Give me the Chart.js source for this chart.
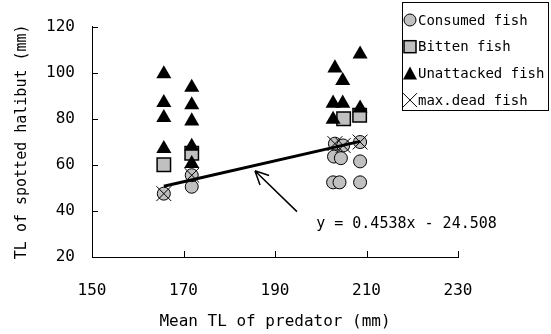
<!DOCTYPE html>
<html>
<head>
<meta charset="utf-8">
<script src="https://cdn.jsdelivr.net/npm/chart.js@4"></script>
<style>
  html, body { margin: 0; padding: 0; background: #fff; }
  canvas { display: block; }
</style>
</head>
<body>
<canvas id="grafico" width="551" height="334"></canvas>
<script>
// --- DATOS ---
const consumedX = [165.7, 171.8, 171.8, 203.1, 204.9, 208.6, 202.9, 204.4, 208.6, 202.7, 204.1, 208.6];
const consumedY = [47.5, 50.5, 55.5, 69.2, 68.4, 69.9, 63.6, 62.9, 61.5, 52.4, 52.4, 52.4];

const bittenX = [165.7, 171.8, 205.0, 208.5];
const bittenY = [60, 65, 80, 81.5];

const unattackedX = [165.7, 165.7, 165.7, 165.7, 171.8, 171.8, 171.8, 171.8, 171.8, 203.1, 204.8, 202.7, 204.8, 208.6, 202.7, 208.6];
const unattackedY = [99.5, 87, 80.5, 67, 93.6, 86, 79, 68, 60.5, 102, 96.5, 86.7, 86.7, 84.6, 79.7, 108];

const maxDeadX = [165.7, 171.8, 203.1, 204.9, 208.6];
const maxDeadY = [47.5, 55.5, 69.2, 68.4, 69.9];

const trendX = [165.7, 208.6];
const trendY = [50.7, 70.2];

const xTicks = [150, 170, 190, 210, 230];
const yTicks = [20, 40, 60, 80, 100, 120];

const legendLabels = ['Consumed fish', 'Bitten fish', 'Unattacked fish', 'max.dead fish'];
const equationText = 'y = 0.4538x - 24.508';

const FONT = '"DejaVu Sans Mono", monospace';

function puntos(xs, ys) {
    return xs.map((x, i) => ({ x: x, y: ys[i] }));
}

// --- MARCADORES ---
function dibujarMarcador(ctx, tipo, x, y) {
    ctx.save();
    ctx.strokeStyle = '#000';
    ctx.lineWidth = 1;
    if (tipo === 'circle') {
        ctx.fillStyle = '#c0c0c0';
        ctx.beginPath();
        ctx.arc(x, y, 6, 0, Math.PI * 2);
        ctx.fill();
        ctx.stroke();
    } else if (tipo === 'rect') {
        ctx.fillStyle = '#c0c0c0';
        ctx.lineWidth = 1.5;
        ctx.fillRect(x - 6, y - 6, 12, 12);
        ctx.strokeRect(x - 6, y - 6, 12, 12);
    } else if (tipo === 'triangle') {
        ctx.fillStyle = '#000';
        ctx.beginPath();
        ctx.moveTo(x, y - 7);
        ctx.lineTo(x + 7, y + 6);
        ctx.lineTo(x - 7, y + 6);
        ctx.closePath();
        ctx.fill();
    } else {
        ctx.beginPath();
        ctx.moveTo(x - 7, y - 7); ctx.lineTo(x + 7, y + 7);
        ctx.moveTo(x + 7, y - 7); ctx.lineTo(x - 7, y + 7);
        ctx.stroke();
    }
    ctx.restore();
}

// --- PLUGIN: ticks hacia dentro, flecha, ecuación y leyenda ---
const decorPlugin = {
    id: 'decor',
    afterDraw(chart) {
        const ctx = chart.ctx;
        const xs = chart.scales.x, ys = chart.scales.y;
        const area = chart.chartArea;

        ctx.save();
        ctx.strokeStyle = '#000';
        ctx.lineWidth = 1;
        ctx.beginPath();
        xTicks.forEach(v => {
            const px = Math.round(xs.getPixelForValue(v)) + 0.5;
            ctx.moveTo(px, area.bottom);
            ctx.lineTo(px, area.bottom - 6);
        });
        yTicks.forEach(v => {
            const py = Math.round(ys.getPixelForValue(v)) + 0.5;
            ctx.moveTo(area.left, py);
            ctx.lineTo(area.left + 6, py);
        });
        ctx.stroke();

        // flecha
        const x0 = xs.getPixelForValue(194.8), y0 = ys.getPixelForValue(39.7);
        const x1 = xs.getPixelForValue(185.6), y1 = ys.getPixelForValue(57.4);
        ctx.lineWidth = 1.5;
        ctx.beginPath();
        ctx.moveTo(x0, y0);
        ctx.lineTo(x1, y1);
        const ang = Math.atan2(y1 - y0, x1 - x0);
        const largo = 15;
        ctx.moveTo(x1, y1);
        ctx.lineTo(x1 - largo * Math.cos(ang - 0.45), y1 - largo * Math.sin(ang - 0.45));
        ctx.moveTo(x1, y1);
        ctx.lineTo(x1 - largo * Math.cos(ang + 0.45), y1 - largo * Math.sin(ang + 0.45));
        ctx.stroke();

        // ecuación
        ctx.fillStyle = '#000';
        ctx.font = '15px ' + FONT;
        ctx.textAlign = 'left';
        ctx.textBaseline = 'middle';
        ctx.fillText(equationText, xs.getPixelForValue(199), ys.getPixelForValue(34.3));

        // leyenda
        ctx.lineWidth = 1;
        ctx.fillStyle = '#fff';
        ctx.fillRect(402.5, 2.5, 146, 108);
        ctx.strokeRect(402.5, 2.5, 146, 108);
        ctx.font = '14px ' + FONT;
        const tipos = ['circle', 'rect', 'triangle', 'crossRot'];
        legendLabels.forEach((txt, i) => {
            const cy = 20 + i * 26.7;
            dibujarMarcador(ctx, tipos[i], 410, cy);
            ctx.fillStyle = '#000';
            ctx.fillText(txt, 418, cy + 1, 129);
        });
        ctx.restore();
    }
};

// --- GRÁFICO ---
const ctx = document.getElementById('grafico').getContext('2d');
new Chart(ctx, {
    type: 'scatter',
    data: {
        datasets: [
            {
                label: 'Trend',
                data: puntos(trendX, trendY),
                showLine: true,
                borderColor: '#000',
                borderWidth: 3,
                pointRadius: 0,
                order: 0
            },
            {
                label: legendLabels[0],
                data: puntos(consumedX, consumedY),
                pointStyle: 'circle',
                pointRadius: 6.5,
                backgroundColor: '#c0c0c0',
                borderColor: '#000',
                borderWidth: 1,
                order: 4
            },
            {
                label: legendLabels[1],
                data: puntos(bittenX, bittenY),
                pointStyle: 'rect',
                pointRadius: 9.5,
                backgroundColor: '#c0c0c0',
                borderColor: '#000',
                borderWidth: 1.5,
                order: 3
            },
            {
                label: legendLabels[2],
                data: puntos(unattackedX, unattackedY),
                pointStyle: 'triangle',
                pointRadius: 8.7,
                backgroundColor: '#000',
                borderColor: '#000',
                borderWidth: 0,
                order: 2
            },
            {
                label: legendLabels[3],
                data: puntos(maxDeadX, maxDeadY),
                pointStyle: 'crossRot',
                pointRadius: 10.5,
                borderColor: '#000',
                borderWidth: 1,
                order: 1
            }
        ]
    },
    options: {
        responsive: false,
        animation: false,
        layout: { padding: { top: 19, right: 93, left: 0, bottom: 0 } },
        plugins: { legend: { display: false }, tooltip: { enabled: false } },
        scales: {
            x: {
                type: 'linear',
                min: 150, max: 230,
                afterFit: s => { s.height = 77; },
                afterBuildTicks: s => { s.ticks = xTicks.map(v => ({ value: v })); },
                grid: { display: false, drawTicks: false },
                border: { display: true, color: '#000', width: 1 },
                ticks: { padding: 24, color: '#000', font: { family: FONT, size: 16 } },
                title: {
                    display: true,
                    text: 'Mean TL of predator (mm)',
                    color: '#000',
                    font: { family: FONT, size: 16 },
                    padding: { top: 0, bottom: 3 }
                }
            },
            y: {
                type: 'linear',
                min: 20, max: 120,
                afterFit: s => { s.width = 92; },
                afterBuildTicks: s => { s.ticks = yTicks.map(v => ({ value: v })); },
                grid: { display: false, drawTicks: false },
                border: { display: true, color: '#000', width: 1 },
                ticks: { padding: 17, color: '#000', font: { family: FONT, size: 16 } },
                title: {
                    display: true,
                    text: 'TL of spotted halibut (mm)',
                    color: '#000',
                    font: { family: FONT, size: 15 },
                    padding: { top: 13, bottom: 0 }
                }
            }
        }
    },
    plugins: [decorPlugin]
});
</script>
</body>
</html>
